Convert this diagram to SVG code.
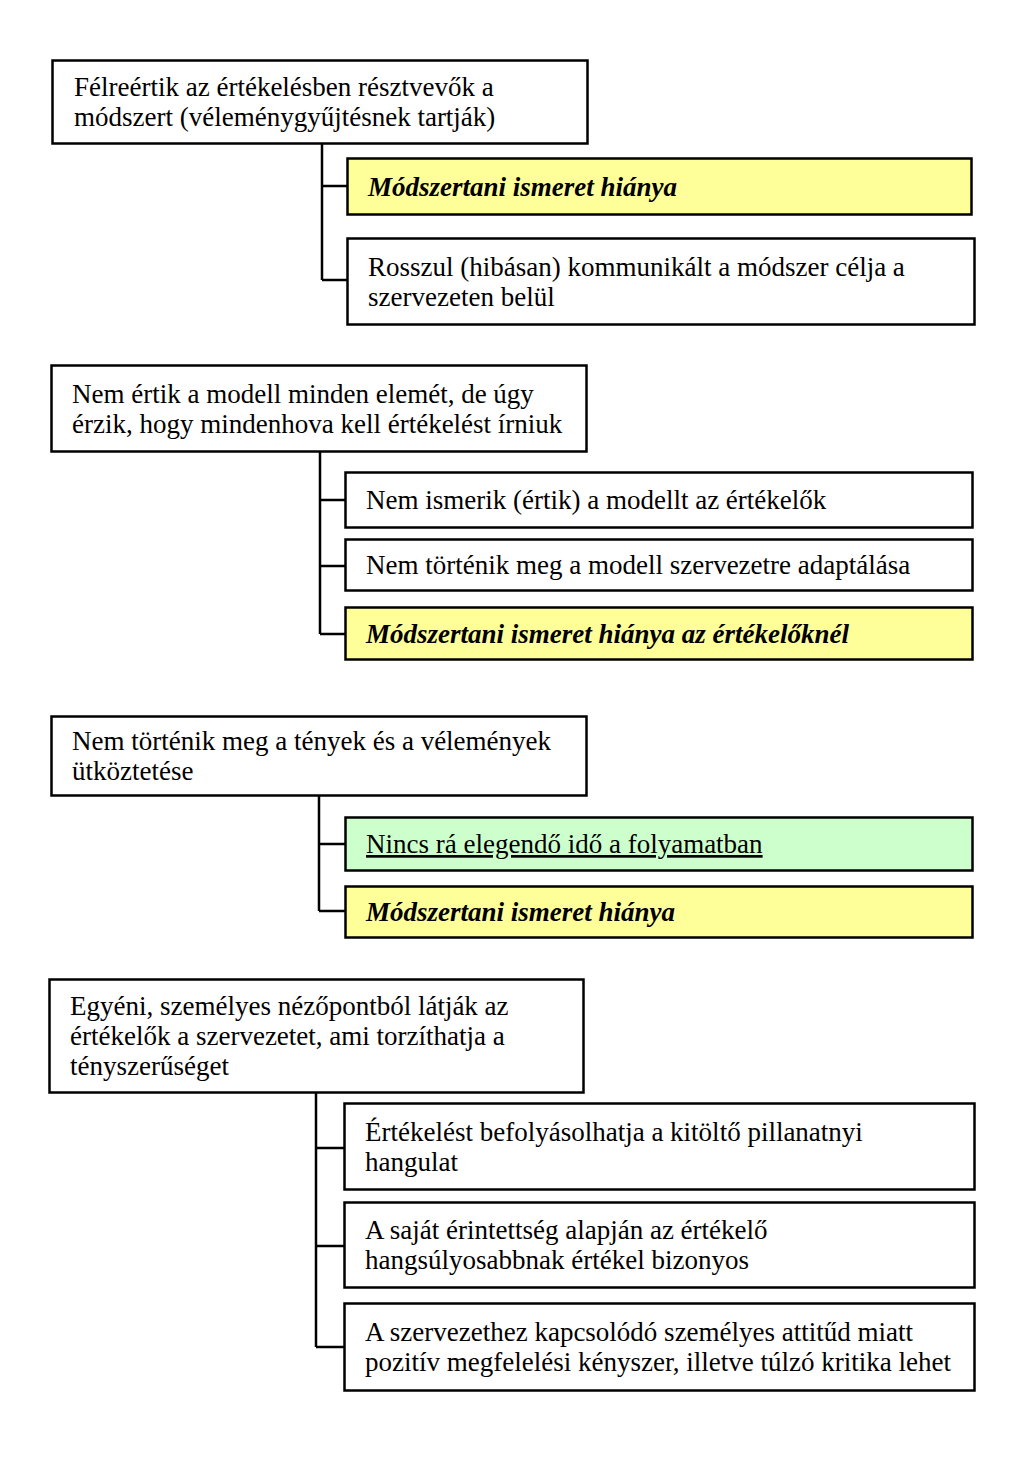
<svg xmlns="http://www.w3.org/2000/svg" width="1024" height="1461" viewBox="0 0 1024 1461">
<style>
.box{fill:#ffffff;stroke:#000;stroke-width:2.5}
.yel{fill:#ffff99;stroke:#000;stroke-width:2.5}
.grn{fill:#ccffcc;stroke:#000;stroke-width:2.5}
.t{font-family:"Liberation Serif","Times New Roman",serif;font-size:27px;fill:#000}
.bi{font-weight:bold;font-style:italic}
.u{text-decoration:underline}
.conn{fill:none;stroke:#000;stroke-width:2.5}
</style>
<rect width="1024" height="1461" fill="#ffffff"/>
<g id="connectors">
<path class="conn" d="M322,144 V280 M322,186 H347 M322,280 H347"/>
<path class="conn" d="M320,452 V634 M320,500 H345 M320,566 H345 M320,634 H345"/>
<path class="conn" d="M319,796 V911 M319,844 H345 M319,911 H345"/>
<path class="conn" d="M316,1093 V1347 M316,1148 H344 M316,1246 H344 M316,1347 H344"/>
</g>
<g id="p1"><rect class="box" x="52.5" y="60.5" width="535" height="83"/>
<text class="t" x="74" y="96">Félreértik az értékelésben résztvevők a</text>
<text class="t" x="74" y="126">módszert (véleménygyűjtésnek tartják)</text></g>
<g id="c1a"><rect class="yel" x="347.5" y="158.5" width="624" height="56"/>
<text class="t bi" x="368" y="195.5">Módszertani ismeret hiánya</text></g>
<g id="c1b"><rect class="box" x="347.5" y="238.5" width="627" height="86"/>
<text class="t" x="368" y="275.5">Rosszul (hibásan) kommunikált a módszer célja a</text>
<text class="t" x="368" y="305.5">szervezeten belül</text></g>

<g id="p2"><rect class="box" x="51.5" y="365.5" width="535" height="86"/>
<text class="t" x="72" y="402.5">Nem értik a modell minden elemét, de úgy</text>
<text class="t" x="72" y="432.5">érzik, hogy mindenhova kell értékelést írniuk</text></g>
<g id="c2a"><rect class="box" x="345.5" y="472.5" width="627" height="55"/>
<text class="t" x="366" y="509">Nem ismerik (értik) a modellt az értékelők</text></g>
<g id="c2b"><rect class="box" x="345.5" y="539.5" width="627" height="51"/>
<text class="t" x="366" y="574">Nem történik meg a modell szervezetre adaptálása</text></g>
<g id="c2c"><rect class="yel" x="345.5" y="607.5" width="627" height="52"/>
<text class="t bi" x="366" y="642.5">Módszertani ismeret hiánya az értékelőknél</text></g>

<g id="p3"><rect class="box" x="51.5" y="716.5" width="535" height="79"/>
<text class="t" x="72" y="750">Nem történik meg a tények és a vélemények</text>
<text class="t" x="72" y="780">ütköztetése</text></g>
<g id="c3a"><rect class="grn" x="345.5" y="817.5" width="627" height="53"/>
<text class="t u" x="366" y="853">Nincs rá elegendő idő a folyamatban</text></g>
<g id="c3b"><rect class="yel" x="345.5" y="886.5" width="627" height="51"/>
<text class="t bi" x="366" y="921">Módszertani ismeret hiánya</text></g>

<g id="p4"><rect class="box" x="49.5" y="979.5" width="534" height="113"/>
<text class="t" x="70" y="1015">Egyéni, személyes nézőpontból látják az</text>
<text class="t" x="70" y="1045">értékelők a szervezetet, ami torzíthatja a</text>
<text class="t" x="70" y="1075">tényszerűséget</text></g>
<g id="c4a"><rect class="box" x="344.5" y="1103.5" width="630" height="86"/>
<text class="t" x="365" y="1140.5">Értékelést befolyásolhatja a kitöltő pillanatnyi</text>
<text class="t" x="365" y="1170.5">hangulat</text></g>
<g id="c4b"><rect class="box" x="344.5" y="1202.5" width="630" height="85"/>
<text class="t" x="365" y="1239">A saját érintettség alapján az értékelő</text>
<text class="t" x="365" y="1269">hangsúlyosabbnak értékel bizonyos</text></g>
<g id="c4c"><rect class="box" x="344.5" y="1303.5" width="630" height="87"/>
<text class="t" x="365" y="1341">A szervezethez kapcsolódó személyes attitűd miatt</text>
<text class="t" x="365" y="1371">pozitív megfelelési kényszer, illetve túlzó kritika lehet</text></g>
</svg>
